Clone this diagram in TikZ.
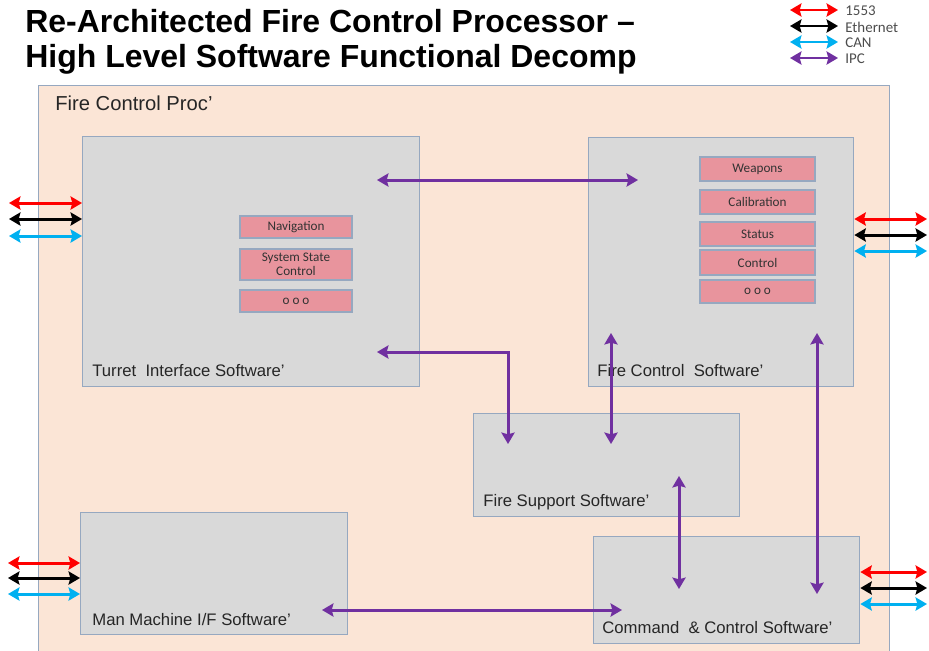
\documentclass[tikz,border=0pt]{standalone}
\usepackage{fontspec}
\setmainfont{Liberation Sans}
\newfontfamily\calfont{Carlito}
\usepackage{tikz}
\usetikzlibrary{arrows.meta}
\definecolor{peach}{RGB}{251,229,214}
\definecolor{boxgray}{RGB}{217,217,217}
\definecolor{edgeblue}{RGB}{150,168,192}
\definecolor{subpink}{RGB}{232,148,157}
\definecolor{ipcpurple}{RGB}{112,48,160}
\definecolor{canblue}{RGB}{0,176,240}

\begin{document}
\begin{tikzpicture}[x=0.02cm,y=-0.02cm,>={Stealth[length=6.5pt,width=7.5pt,inset=1pt]},
  sw box/.style={draw=edgeblue,fill=boxgray,line width=0.8pt,anchor=north west,inner sep=0pt},
  sub box/.style={draw=edgeblue,fill=subpink,line width=0.7pt,inner sep=0pt,align=center,
    minimum height=0.44cm,text=black!80,font=\calfont\fontsize{7.5}{8}\selectfont},
  sw label/.style={anchor=base west,inner sep=0pt,text=black!85,font=\fontsize{9.5}{11}\selectfont},
  legend text/.style={anchor=west,inner sep=0pt,text=black!70,font=\calfont\fontsize{8.5}{9}\selectfont},
  ipc/.style={<->,draw=ipcpurple,line width=1.7pt},
  bus1553/.style={<->,draw=red,line width=1.7pt},
  buseth/.style={<->,draw=black,line width=1.7pt},
  buscan/.style={<->,draw=canblue,line width=1.7pt}]
  \useasboundingbox (0,0) rectangle (929,650);

  % heading
  \node[anchor=base west,inner sep=0pt,font=\bfseries\fontsize{18.2}{20}\selectfont] (title1) at (25,32)
    {Re-Architected Fire Control Processor --};
  \node[anchor=base west,inner sep=0pt,font=\bfseries\fontsize{18.2}{20}\selectfont] (title2) at (25,67)
    {High Level Software Functional Decomp};

  % key
  \foreach \name/\sty/\yy in {1553/bus1553/10,Ethernet/buseth/26,CAN/buscan/42,IPC/ipc/58}{
    \node[legend text] (key-\name) at (845,\yy+1) {\name};
    \coordinate (keya-\name) at (790,\yy);
    \coordinate (keyb-\name) at (838,\yy);
    \draw[\sty] (keya-\name) -- (keyb-\name);
  }

  % processor and its software blocks
  \clip (0,0) rectangle (929,650);
  \node[draw=edgeblue,fill=peach,line width=0.8pt,anchor=north west,inner sep=0pt,
        minimum width=17.02cm,minimum height=11.5cm] (proc) at (38,85) {};
  \node[anchor=base west,inner sep=0pt,text=black!85,font=\fontsize{11.5}{13}\selectfont]
    (proclabel) at ([shift={(17,25)}]proc.north west) {Fire Control Proc'};

  \node[sw box,minimum width=6.74cm,minimum height=5cm] (turret) at (82,136) {};
  \node[sw box,minimum width=5.3cm,minimum height=4.98cm] (fcs) at (588,137) {};
  \node[sw box,minimum width=5.32cm,minimum height=2.06cm] (fss) at (473,413) {};
  \node[sw box,minimum width=5.34cm,minimum height=2.44cm] (mmi) at (80,512) {};
  \node[sw box,minimum width=5.32cm,minimum height=2.14cm] (cmd) at (593,536) {};

  \node[sw label] at ([shift={(10,-11)}]turret.south west) {Turret\ \ Interface Software'};
  \node[sw label] at ([shift={(9,-11)}]fcs.south west) {Fire Control\ \ Software'};
  \node[sw label] at ([shift={(10,-11)}]fss.south west) {Fire Support Software'};
  \node[sw label] at ([shift={(12,-10)}]mmi.south west) {Man Machine I/F Software'};
  \node[sw label] at ([shift={(9,-11)}]cmd.south west) {Command\ \ \& Control\ Software'};

  % turret functions
  \node[sub box,minimum width=2.24cm] (nav) at (296,227) {Navigation};
  \node[sub box,minimum width=2.24cm,minimum height=0.62cm] (state) at (296,264.5) {System State\\Control};
  \node[sub box,minimum width=2.24cm] (tmore) at (296,301) {o o o};

  % fire control functions
  \node[sub box,minimum width=2.3cm,minimum height=0.48cm] (weap) at (757.5,169) {Weapons};
  \node[sub box,minimum width=2.3cm,minimum height=0.48cm] (calib) at (757.5,202) {Calibration};
  \node[sub box,minimum width=2.3cm,minimum height=0.48cm] (status) at (757.5,234) {Status};
  \node[sub box,minimum width=2.3cm,minimum height=0.5cm] (ctrl) at (757.5,262.5) {Control};
  \node[sub box,minimum width=2.3cm,minimum height=0.46cm] (fmore) at (757.5,291.5) {o o o};

  % inter-process links
  \coordinate (ti-e) at (377,180);
  \coordinate (fc-w) at (638,180);
  \coordinate (ti-s) at (377,352);
  \coordinate (fs-a) at (508,444);
  \coordinate (fc-a) at (611,333);
  \coordinate (fs-b) at (611,444);
  \coordinate (fs-c) at (679,476);
  \coordinate (cc-a) at (679,589);
  \coordinate (fc-b) at (817,333);
  \coordinate (cc-b) at (817,594);
  \coordinate (mm-e) at (322,610);
  \coordinate (cc-w) at (622,610);
  \draw[ipc] (ti-e) -- (fc-w);
  \draw[ipc] (ti-s) -| (fs-a);
  \draw[ipc] (fc-a) -- (fs-b);
  \draw[ipc] (fs-c) -- (cc-a);
  \draw[ipc] (fc-b) -- (cc-b);
  \draw[ipc] (mm-e) -- (cc-w);

  % external buses
  \foreach \yy/\sty in {203/bus1553,219/buseth,236/buscan}{
    \coordinate (tx-\sty) at (9,\yy);
    \draw[\sty] (tx-\sty) -- (turret.west |- tx-\sty);
  }
  \foreach \yy/\sty in {219/bus1553,235/buseth,251/buscan}{
    \coordinate (fx-\sty) at (927,\yy);
    \draw[\sty] (fcs.east |- fx-\sty) -- (fx-\sty);
  }
  \foreach \yy/\sty in {563/bus1553,578/buseth,594/buscan}{
    \coordinate (mx-\sty) at (8,\yy);
    \draw[\sty] (mx-\sty) -- (mmi.west |- mx-\sty);
  }
  \foreach \yy/\sty in {572/bus1553,588/buseth,604/buscan}{
    \coordinate (cx-\sty) at (927,\yy);
    \draw[\sty] (cmd.east |- cx-\sty) -- (cx-\sty);
  }
\end{tikzpicture}
\end{document}
